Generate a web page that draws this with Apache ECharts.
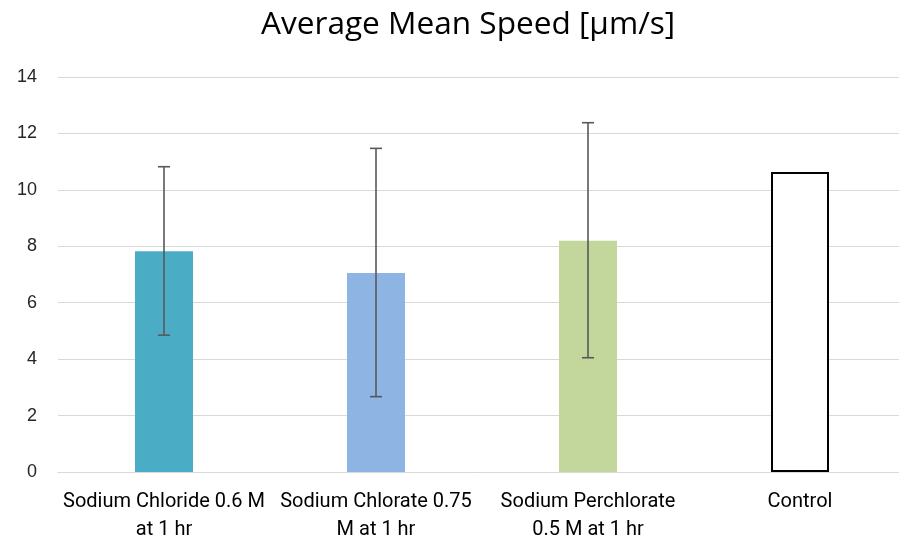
<!DOCTYPE html>
<html>
<head>
<meta charset="utf-8">
<script src="https://cdn.jsdelivr.net/npm/echarts@6/dist/echarts.min.js"></script>
<style>html,body{margin:0;padding:0;background:#fff}#c{width:899px;height:543px}</style>
</head>
<body>
<div id="c"></div>
<script>
const categories = ["Sodium Chloride 0.6 M\nat 1 hr", "Sodium Chlorate 0.75\nM at 1 hr", "Sodium Perchlorate\n0.5 M at 1 hr", "Control"];
const meanSpeed = [7.82, 7.05, 8.2, 10.63];
const errLow = [4.85, 2.67, 4.05, null];
const errHigh = [10.82, 11.47, 12.38, null];
const barColors = ["#4BACC6", "#8EB4E3", "#C3D69B", "#FFFFFF"];
const yTicks = [0, 2, 4, 6, 8, 10, 12, 14];

const chart = echarts.init(document.getElementById('c'));
chart.setOption({
  animation: false,
  backgroundColor: '#fff',
  title: {
    text: 'Average Mean Speed [\u00b5m/s]',
    left: 256, top: 4,
    textStyle: { fontFamily: 'Open Sans', fontSize: 31.6, fontWeight: 'normal', color: '#000' }
  },
  grid: { left: 58, width: 848, top: 77, height: 395, containLabel: false, outerBoundsMode: 'none' },
  xAxis: {
    type: 'category', data: categories,
    axisLine: { show: true, lineStyle: { color: '#d9d9d9', width: 1 } },
    axisTick: { show: false },
    axisLabel: { interval: 0, margin: 16, lineHeight: 28, color: '#000', fontSize: 20, fontFamily: 'Roboto' }
  },
  yAxis: {
    type: 'value', min: yTicks[0], max: yTicks[yTicks.length - 1], interval: 2,
    axisLine: { show: false }, axisTick: { show: false },
    splitLine: { lineStyle: { color: '#d9d9d9', width: 1 } },
    axisLabel: { margin: 21, color: '#262626', fontSize: 18, fontFamily: 'Liberation Sans' }
  },
  series: [
    {
      type: 'bar', barWidth: 58,
      data: meanSpeed.map((v, i) => ({
        value: v,
        itemStyle: i === 3 ? { color: '#fff', borderColor: '#000', borderWidth: 2 } : { color: barColors[i] }
      }))
    },
    {
      type: 'custom',
      data: errLow.map((lo, i) => [i, lo, errHigh[i]]).filter(d => d[1] !== null),
      renderItem: function (params, api) {
        const x = api.value(0);
        const lo = api.coord([x, api.value(1)]);
        const hi = api.coord([x, api.value(2)]);
        const w = 6;
        const style = { stroke: '#595959', lineWidth: 1.6 };
        return {
          type: 'group',
          children: [
            { type: 'line', shape: { x1: hi[0], y1: hi[1], x2: lo[0], y2: lo[1] }, style: style },
            { type: 'line', shape: { x1: hi[0] - w, y1: hi[1], x2: hi[0] + w, y2: hi[1] }, style: style },
            { type: 'line', shape: { x1: lo[0] - w, y1: lo[1], x2: lo[0] + w, y2: lo[1] }, style: style }
          ]
        };
      },
      z: 10
    }
  ]
});
</script>
</body>
</html>
